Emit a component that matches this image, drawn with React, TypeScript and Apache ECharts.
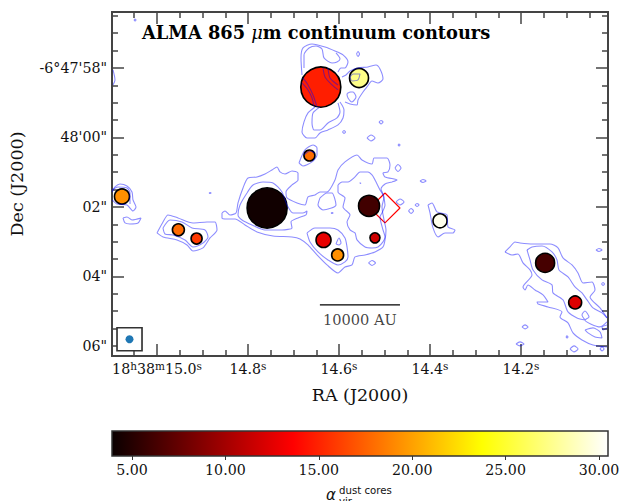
import React, { useEffect, useRef } from "react";
import * as echarts from "echarts";

// Axis tick positions and labels
const raMajor = [15.0, 14.8, 14.6, 14.4, 14.2];
const raMajorLabels = ["18{s|h}38{s|m}15.0{s|s}", "14.8{s|s}", "14.6{s|s}", "14.4{s|s}", "14.2{s|s}"];
const raMinor = [15.05, 14.95, 14.9, 14.85, 14.75, 14.7, 14.65, 14.55, 14.5, 14.45, 14.35, 14.3, 14.25, 14.15, 14.1, 14.05];
const decMajor = [58, 60, 62, 64, 66];
const decMajorLabels = ["-6°47'58\"", "48'00\"", "02\"", "04\"", "06\""];
const decMinor = [56.5, 57, 57.5, 58.5, 59, 59.5, 60.5, 61, 61.5, 62.5, 63, 63.5, 64.5, 65, 65.5];
const raRange = [14.0088, 15.0989];
const decRange = [56.39, 66.29];

// Dust cores
const coreRA = [14.64, 14.556, 14.665, 15.077, 14.758, 14.534, 14.953, 14.913, 14.634, 14.603, 14.521, 14.378, 14.147, 14.081];
const coreDec = [58.55, 58.29, 60.52, 61.7, 62.03, 61.97, 62.66, 62.91, 62.95, 63.38, 62.89, 62.4, 63.61, 64.75];
const coreAlpha = [14.8, 27.3, 17.9, 19.3, 4.2, 6.1, 17.8, 15.9, 12.7, 19.3, 11.7, 30.0, 6.3, 12.3];
const coreDiameter = [40, 19, 11, 15, 40, 21, 12, 11, 15, 12, 10, 14, 19, 13];

// Red field outline
const fieldOutline = [[14.499, 61.6], [14.466, 62.03], [14.499, 62.46], [14.532, 62.03], [14.499, 61.6]];
const scaleBar = [[14.642, 64.82], [14.466, 64.82]];
const scaleBarLabel = "10000 AU";
const beamPos = [15.0604, 65.81];

// Colour bar
const cbarRange = [3.93, 30.48];
const cbarTicks = [5, 10, 15, 20, 25, 30];
const hotStops: [number, number[]][] = [[0, [10, 0, 0]], [0.365, [255, 0, 0]], [0.746, [255, 255, 0]], [1, [255, 255, 255]]];

// Contours, traced on the map's pixel grid and converted by the WCS below
const wcs = { ra0: 15.0, i0: 157, iPerSec: 455, dec0: 58, j0: 68, jPerArcsec: 34.75 };
const contours: number[][][] = [
  [[302, 75], [301, 58], [303, 48], [312, 44], [325, 47], [335, 51], [343, 55], [348, 62], [345, 68], [341, 68], [338, 72]],
  [[304, 68], [304, 55], [309, 48], [316, 46], [322, 49], [324, 58], [332, 63], [337, 62], [340, 59], [336, 53]],
  [[303, 78], [308, 85], [313, 95], [317, 107]],
  [[302, 83], [308, 90], [312, 98], [314, 106]],
  [[323, 68], [325, 77], [332, 85], [338, 90]],
  [[328, 68], [330, 78], [338, 85]],
  [[315, 107], [308, 113], [304, 122], [302, 132], [307, 138], [315, 138], [320, 133], [328, 130], [338, 125], [343, 118], [344, 110], [340, 102]],
  [[320, 107], [313, 113], [312, 123], [314, 130], [320, 130], [328, 123], [337, 118], [340, 112], [338, 103]],
  [[342, 77], [346, 75], [350, 71], [358, 68], [368, 67], [376, 65], [380, 69], [383, 79], [378, 83], [372, 81], [367, 87], [363, 92], [358, 100], [357, 105], [350, 104], [345, 102]],
  [[350, 92], [353, 92], [356, 97], [352, 102], [348, 98], [347, 94], [350, 92]],
  [[350, 77], [353, 74], [360, 74], [358, 80], [352, 81], [350, 77]],
  [[222, 213], [225, 211], [230, 215], [236, 213], [238, 203], [243, 188], [248, 178], [257, 177], [265, 174], [272, 170], [277, 167], [280, 172], [285, 174], [292, 171], [298, 173], [298, 180], [292, 185], [286, 192], [287, 198], [297, 203], [305, 205], [308, 197], [315, 195], [320, 192], [327, 192], [335, 180], [338, 170], [345, 162], [357, 155], [362, 160], [372, 164], [374, 158], [380, 158], [387, 158], [390, 165], [388, 172], [383, 173], [385, 177], [397, 180], [392, 182], [385, 184], [381, 189], [384, 197], [382, 207], [384, 220], [386, 230], [385, 240], [383, 247], [375, 252], [365, 255], [355, 257], [352, 265], [345, 267], [338, 273], [327, 265], [317, 255], [308, 245], [300, 239], [292, 237], [273, 236], [257, 232], [245, 225], [235, 219], [227, 219], [222, 218], [222, 213]],
  [[247, 193], [253, 185], [263, 182], [273, 183], [282, 192], [287, 205], [293, 213], [303, 213], [307, 211], [306, 215], [298, 218], [291, 222], [292, 228], [282, 230], [265, 230], [252, 225], [242, 220], [238, 215], [240, 205], [247, 193]],
  [[338, 185], [342, 182], [348, 182], [355, 177], [360, 172], [368, 172], [372, 175], [375, 180], [380, 190], [383, 195], [385, 205], [382, 213], [380, 217], [383, 230], [385, 237], [383, 242], [378, 247], [372, 248], [365, 247], [357, 240], [355, 233], [350, 230], [347, 222], [350, 215], [343, 207], [345, 198], [338, 192], [338, 185]],
  [[320, 198], [327, 193], [332, 193], [336, 205], [323, 210], [318, 205], [320, 198]],
  [[307, 233], [315, 228], [330, 228], [338, 230], [345, 238], [347, 247], [348, 257], [345, 262], [338, 265], [328, 260], [318, 252], [310, 242], [307, 233]],
  [[336, 244], [339, 238], [341, 243], [339, 245], [336, 244]],
  [[428, 205], [432, 203], [437, 212], [447, 215], [448, 227], [455, 230], [453, 233], [445, 233], [438, 237], [433, 228], [430, 213], [428, 205]],
  [[112, 192], [115, 187], [120, 184], [127, 186], [132, 192], [133, 200], [136, 207], [133, 211], [127, 205], [117, 204], [112, 200]],
  [[112, 190], [118, 187], [127, 188], [130, 193], [130, 204]],
  [[123, 218], [127, 217], [132, 220], [141, 218], [138, 223], [130, 224], [125, 223], [123, 218]],
  [[157, 233], [163, 222], [168, 215], [178, 218], [193, 223], [207, 222], [215, 222], [217, 230], [210, 238], [203, 248], [193, 251], [187, 245], [177, 240], [163, 237], [157, 233]],
  [[163, 228], [170, 220], [182, 222], [192, 228], [205, 230], [208, 237], [203, 243], [193, 247], [185, 240], [173, 235], [165, 234], [163, 228]],
  [[299, 163], [305, 150], [313, 145], [317, 148], [317, 155], [312, 162], [303, 166], [299, 163]],
  [[304, 155], [310, 151], [315, 153]],
  [[505, 252], [512, 255], [518, 254], [523, 263], [530, 270], [532, 275], [523, 287], [525, 290], [528, 285], [535, 290], [543, 295], [548, 302], [542, 302], [537, 302], [538, 304], [548, 307], [562, 312], [560, 317], [568, 323], [573, 333], [582, 340], [593, 345], [607, 347]],
  [[505, 252], [510, 247], [515, 242], [520, 243], [533, 244], [550, 244], [558, 248], [563, 258], [572, 265], [578, 273], [583, 283], [592, 282], [595, 290], [590, 297], [600, 308], [607, 318]],
  [[527, 250], [532, 247], [542, 246], [552, 252], [557, 260], [559, 270], [568, 277], [575, 287], [582, 293], [587, 300], [593, 308], [602, 313], [607, 318]],
  [[527, 250], [530, 260], [533, 270], [542, 280], [552, 285], [553, 293], [563, 300], [568, 312], [577, 318], [585, 320], [582, 315], [585, 311], [589, 317], [585, 320], [600, 327], [607, 322]],
  [[585, 330], [593, 328], [600, 332], [602, 338], [595, 337], [588, 333], [585, 330]],
  [[607, 325], [602, 327], [603, 330], [607, 328]],
  [[113, 70], [115, 80], [113, 85]],
  // small isolated islands
  [[356.5, 54], [358, 51.5], [359.5, 54], [358, 56.5], [356.5, 54]],
  [[379, 122], [381, 120.5], [383, 122], [381, 124], [379, 122]],
  [[342.5, 132], [344, 130.5], [345.5, 132], [344, 133.5], [342.5, 132]],
  [[367, 138], [371, 135], [375, 138], [371, 141], [367, 138]],
  [[395, 168], [398, 164.5], [401, 168], [398, 171.5], [395, 168]],
  [[368.5, 263], [372, 260.5], [375.5, 263], [372, 265.5], [368.5, 263]],
  [[396, 202], [400, 199], [404, 202], [400, 205], [396, 202]],
  [[408.5, 211], [411, 208.5], [413.5, 211], [411, 213.5], [408.5, 211]],
  [[415, 205], [417, 203.5], [419, 205], [417, 206.5], [415, 205]],
  [[420, 181], [423, 179.5], [426, 181], [423, 182.5], [420, 181]],
  [[596, 250], [599, 248.5], [602, 250], [599, 251.5], [596, 250]],
  [[601.5, 284], [603, 282.5], [604.5, 284], [603, 285.5], [601.5, 284]],
  [[522, 327], [525, 325], [528, 327], [525, 329], [522, 327]],
  [[566, 337], [567, 336], [568, 337], [567, 338], [566, 337]],
  [[516, 344], [520, 342], [524, 344], [520, 346], [516, 344]],
  [[570, 349], [574, 346], [578, 349], [574, 352], [570, 349]],
  [[600, 349], [602, 347], [604, 349], [602, 351], [600, 349]],
  [[134, 20], [135, 19], [136, 20], [135, 21], [134, 20]],
  [[398, 145], [399, 144], [400, 145], [399, 146], [398, 145]],
  [[209, 193], [210, 192.5], [211, 193], [210, 193.5], [209, 193]],
  [[359.5, 183], [360, 182.5], [361, 183], [360, 183.5], [359.5, 183]],
  [[331, 213], [332, 212.5], [333, 213], [332, 213.5], [331, 213]],
];

const toWorld = ([i, j]: number[]) => [
  wcs.ra0 - (i - wcs.i0) / wcs.iPerSec,
  wcs.dec0 + (j - wcs.j0) / wcs.jPerArcsec,
];

function hot(value: number) {
  const t = Math.min(1, Math.max(0, (value - cbarRange[0]) / (cbarRange[1] - cbarRange[0])));
  for (let k = 1; k < hotStops.length; k++) {
    const [t1, c1] = hotStops[k];
    const [t0, c0] = hotStops[k - 1];
    if (t <= t1) {
      const f = (t - t0) / (t1 - t0);
      return `rgb(${c0.map((c, n) => Math.round(c + (c1[n] - c) * f)).join(",")})`;
    }
  }
  return "#fff";
}

const SERIF = "'DejaVu Serif'";
const AXIS = "#444";
const INK = "#111";

function buildOption() {
  const xBase = { type: "value", gridIndex: 0, min: raRange[0], max: raRange[1], inverse: true, splitLine: { show: false }, axisLine: { show: true, lineStyle: { color: AXIS, width: 2 } } };
  const yBase = { type: "value", gridIndex: 0, min: decRange[0], max: decRange[1], inverse: true, splitLine: { show: false }, axisLine: { show: true, lineStyle: { color: AXIS, width: 2 } } };
  const tick = (vals: number[], length: number) => ({ show: true, inside: true, length, customValues: vals, lineStyle: { color: AXIS, width: 1.5 } });
  const noLabel = { show: false };

  return {
    animation: false,
    backgroundColor: "#fff",
    title: {
      text: "ALMA 865 {mu|μ}m continuum contours",
      left: 142,
      top: 23,
      padding: 0,
      textStyle: {
        fontFamily: SERIF, fontWeight: "bold", fontSize: 17.8, color: "#000",
        rich: { mu: { fontFamily: SERIF, fontStyle: "italic", fontWeight: "normal", fontSize: 17.8, color: "#000" } },
      },
    },
    grid: [
      { left: 112, top: 12, width: 496, height: 344, outerBoundsMode: "none" },
      { left: 112, top: 431, width: 496, height: 25, show: true, borderColor: "#333", borderWidth: 1.5, z: 5, outerBoundsMode: "none" },
    ],
    xAxis: [
      {
        ...xBase, position: "bottom",
        name: "RA (J2000)", nameLocation: "middle", nameGap: 30,
        nameTextStyle: { fontFamily: SERIF, fontSize: 17.5, color: INK },
        axisTick: tick(raMajor, 12),
        axisLabel: {
          customValues: raMajor, margin: 4,
          fontFamily: SERIF, fontSize: 14.2, color: INK,
          formatter: (v: number) => raMajorLabels[raMajor.findIndex((r) => Math.abs(r - v) < 1e-6)] ?? "",
          rich: { s: { fontFamily: SERIF, fontSize: 10.5, color: INK, verticalAlign: "top", padding: [0, 0, 6, 0] } },
        },
      },
      { ...xBase, position: "bottom", axisTick: tick(raMinor, 6), axisLabel: noLabel },
      { ...xBase, position: "top", axisTick: tick(raMajor, 12), axisLabel: noLabel },
      { ...xBase, position: "top", axisTick: tick(raMinor, 6), axisLabel: noLabel },
      {
        type: "value", gridIndex: 1, min: cbarRange[0], max: cbarRange[1], position: "bottom",
        splitLine: { show: false },
        axisLine: { show: false },
        axisTick: { show: true, length: 4, customValues: cbarTicks, lineStyle: { color: "#333", width: 1 } },
        axisLabel: { customValues: cbarTicks, margin: 7, fontFamily: SERIF, fontSize: 14.2, color: INK, formatter: (v: number) => v.toFixed(2) },
      },
    ],
    yAxis: [
      {
        ...yBase, position: "left",
        name: "Dec (J2000)", nameLocation: "middle", nameGap: 86, nameRotate: 90,
        nameTextStyle: { fontFamily: SERIF, fontSize: 17.5, color: INK },
        axisTick: tick(decMajor, 12),
        axisLabel: {
          customValues: decMajor, margin: 5,
          fontFamily: SERIF, fontSize: 14.2, color: INK,
          formatter: (v: number) => decMajorLabels[decMajor.indexOf(v)] ?? "",
        },
      },
      { ...yBase, position: "left", axisTick: tick(decMinor, 6), axisLabel: noLabel },
      { ...yBase, position: "right", axisTick: tick(decMajor, 12), axisLabel: noLabel },
      { ...yBase, position: "right", axisTick: tick(decMinor, 6), axisLabel: noLabel },
      { type: "value", gridIndex: 1, min: 0, max: 1, show: false },
    ],
    series: [
      {
        type: "line", name: "field", data: fieldOutline, showSymbol: false, silent: true, z: 2,
        lineStyle: { color: "#ff0000", width: 1.2 },
      },
      {
        type: "scatter", name: "cores", z: 3,
        data: coreRA.map((ra, k) => [ra, coreDec[k], coreAlpha[k], coreDiameter[k]]),
        symbolSize: (d: number[]) => d[3],
        itemStyle: {
          opacity: 1, borderColor: "#000", borderWidth: 1.6,
          color: (p: any) => hot(p.value[2]),
        },
      },
      ...contours.map((c) => ({
        type: "line", name: "contour", data: c.map(toWorld), showSymbol: false, silent: true, z: 4,
        smooth: 0.25, clip: true,
        lineStyle: { color: "rgba(0,0,255,0.45)", width: 1.1 },
      })),
      {
        type: "line", name: "scale", data: scaleBar, showSymbol: false, z: 4,
        lineStyle: { color: "#000", width: 1.3 },
      },
      {
        type: "scatter", name: "scaleLabel", z: 4, symbolSize: 0,
        data: [[(scaleBar[0][0] + scaleBar[1][0]) / 2, scaleBar[0][1]]],
        label: { show: true, position: "bottom", distance: 7, formatter: scaleBarLabel, fontFamily: SERIF, fontSize: 14.6, color: INK },
      },
      {
        type: "scatter", name: "beamBox", z: 4, symbol: "rect", symbolSize: [25, 23],
        data: [beamPos], itemStyle: { opacity: 1, color: "#fff", borderColor: "#333", borderWidth: 1.6 },
      },
      {
        type: "scatter", name: "beam", z: 5, symbolSize: 8,
        data: [beamPos], itemStyle: { opacity: 1, color: "#1f77b4" },
      },
      {
        type: "custom", name: "colorbar", xAxisIndex: 4, yAxisIndex: 4, z: 1, silent: true,
        data: [[cbarRange[0], cbarRange[1]]],
        renderItem: (_: any, api: any) => {
          const a = api.coord([api.value(0), 1]);
          const b = api.coord([api.value(1), 0]);
          return {
            type: "rect",
            shape: { x: a[0], y: a[1], width: b[0] - a[0], height: b[1] - a[1] },
            style: {
              fill: new echarts.graphic.LinearGradient(0, 0, 1, 0, hotStops.map(([offset, c]) => ({ offset, color: `rgb(${c.join(",")})` }))),
            },
          };
        },
      },
    ],
    graphic: [
      { type: "text", x: 326, y: 487, style: { text: "α", font: "italic 15px 'DejaVu Sans'", fill: INK } },
      { type: "text", x: 339, y: 485, style: { text: "dust cores", font: "10.2px 'DejaVu Sans'", fill: INK } },
      { type: "text", x: 339, y: 496, style: { text: "vir", font: "10.2px 'DejaVu Sans'", fill: INK } },
    ],
  };
}

export default function App() {
  const ref = useRef<HTMLDivElement>(null);
  useEffect(() => {
    document.body.style.margin = "0";
    const chart = echarts.init(ref.current!, null, { renderer: "svg" });
    chart.setOption(buildOption() as any);
    return () => chart.dispose();
  }, []);
  return <div ref={ref} style={{ width: 629, height: 501, overflow: "hidden" }} />;
}
